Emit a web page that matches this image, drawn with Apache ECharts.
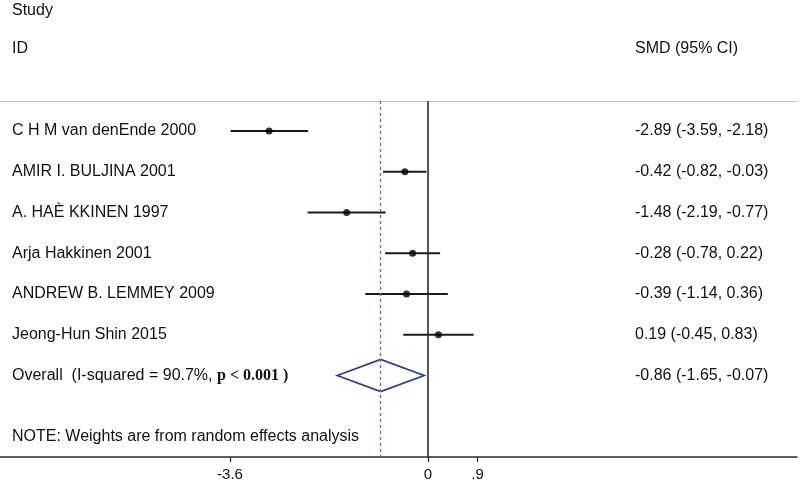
<!DOCTYPE html>
<html><head><meta charset="utf-8">
<script src="https://cdn.jsdelivr.net/npm/echarts@6/dist/echarts.min.js"></script>
<style>html,body{margin:0;padding:0;background:#fff}#c{width:800px;height:486px}</style>
</head><body><div id="c"></div>
<script>
var studies = ['C H M van denEnde 2000','AMIR I. BULJINA 2001','A. HAÈ KKINEN 1997','Arja Hakkinen 2001','ANDREW B. LEMMEY 2009','Jeong-Hun Shin 2015'];
var est = [-2.89,-0.42,-1.48,-0.28,-0.39,0.19];
var lo  = [-3.59,-0.82,-2.19,-0.78,-1.14,-0.45];
var hi  = [-2.18,-0.03,-0.77,0.22,0.36,0.83];
var overallEst = -0.86, overallLo = -1.65, overallHi = -0.07;
var overallLabel = 'Overall  (I-squared = 90.7%, ';
var tickValues = [-3.6, 0, 0.9];
var tickLabels = ['-3.6', '0', '.9'];

function fmt(v){ return v.toFixed(2); }
var rightText = est.map(function(e,i){ return fmt(e)+' ('+fmt(lo[i])+', '+fmt(hi[i])+')'; });
var overallText = fmt(overallEst)+' ('+fmt(overallLo)+', '+fmt(overallHi)+')';

var FONT = 'Liberation Sans, Arial, Helvetica, sans-serif';
var FS = 16;
var TXT = '#111';
var chart = echarts.init(document.getElementById('c'));

var ciData = est.map(function(e,i){ return [lo[i], hi[i], i]; });
var ptData = est.map(function(e,i){ return [e, i]; });
var nRow = studies.length;

chart.setOption({
  animation:false,
  backgroundColor:'#fff',
  grid:{left:0,right:3,top:101,bottom:29},
  xAxis:[{
    type:'value', min:-7.7818, max:6.709, position:'bottom',
    splitLine:{show:false},
    axisLine:{show:true,onZero:false,lineStyle:{color:'#2a2a2a',width:1.6}},
    axisTick:{show:true,length:5,lineStyle:{color:'#2a2a2a',width:1.3},customValues:tickValues},
    axisLabel:{show:true,margin:10,fontSize:15,fontFamily:FONT,color:TXT,customValues:tickValues,
      formatter:function(v){ var k=tickValues.indexOf(v); return k>=0?tickLabels[k]:''; }}
  },{
    type:'value', min:-7.7818, max:6.709, position:'top',
    splitLine:{show:false}, axisTick:{show:false}, axisLabel:{show:false},
    axisLine:{show:true,onZero:false,lineStyle:{color:'#b9c7d2',width:1.2}}
  }],
  yAxis:{type:'value',inverse:true,min:-0.736,max:8.0,show:false},
  series:[
    {
      type:'scatter', data:[], xAxisIndex:0,
      markLine:{symbol:'none',silent:true,label:{show:false},
        data:[
          {xAxis:0,lineStyle:{color:'#2b2b2b',width:1.6,type:'solid'}},
          {xAxis:overallEst,lineStyle:{color:'#a3625f',width:1.4,type:[3,3]}}
        ]}
    },
    {
      type:'custom', data:ciData, z:3,
      renderItem:function(params,api){
        var a=api.coord([api.value(0),api.value(2)]);
        var b=api.coord([api.value(1),api.value(2)]);
        var i=params.dataIndex;
        return {type:'group',children:[
          {type:'line',shape:{x1:a[0],y1:a[1],x2:b[0],y2:b[1]},style:{stroke:'#1a1a1a',lineWidth:1.8}},
          {type:'text',x:12,y:a[1],style:{text:studies[i],fill:TXT,font:FS+'px '+FONT,textVerticalAlign:'middle',textAlign:'left'}},
          {type:'text',x:635,y:a[1],style:{text:rightText[i],fill:TXT,font:FS+'px '+FONT,textVerticalAlign:'middle',textAlign:'left'}}
        ]};
      }
    },
    {
      type:'scatter', data:ptData, symbol:'circle', symbolSize:7, z:4,
      itemStyle:{color:'#000'}
    },
    {
      type:'custom', data:[[overallLo, overallEst, overallHi, nRow]], z:3,
      renderItem:function(params,api){
        var y=api.value(3);
        var l=api.coord([api.value(0),y]);
        var m=api.coord([api.value(1),y]);
        var r=api.coord([api.value(2),y]);
        var h=16;
        return {type:'group',children:[
          {type:'polygon',shape:{points:[[l[0],l[1]],[m[0],m[1]-h],[r[0],r[1]],[m[0],m[1]+h]]},
            style:{fill:'none',stroke:'#2a3a92',lineWidth:1.7}},
          {type:'text',x:12,y:l[1],style:{
            text:overallLabel+'{s|p < 0.001 )}',
            rich:{s:{fontFamily:'Liberation Serif, Times New Roman, serif',fontSize:FS,fontWeight:'bold',fill:TXT}},
            fill:TXT,font:FS+'px '+FONT,textVerticalAlign:'middle',textAlign:'left'}},
          {type:'text',x:635,y:l[1],style:{text:overallText,fill:TXT,font:FS+'px '+FONT,textVerticalAlign:'middle',textAlign:'left'}}
        ]};
      }
    }
  ],
  graphic:[
    {type:'text',left:12,top:3,style:{text:'Study',fill:TXT,font:FS+'px '+FONT}},
    {type:'text',left:12,top:41,style:{text:'ID',fill:TXT,font:FS+'px '+FONT}},
    {type:'text',left:635,top:41,style:{text:'SMD (95% CI)',fill:TXT,font:FS+'px '+FONT}},
    {type:'text',left:12,top:429,style:{text:'NOTE: Weights are from random effects analysis',fill:TXT,font:FS+'px '+FONT}}
  ]
});
</script></body></html>
